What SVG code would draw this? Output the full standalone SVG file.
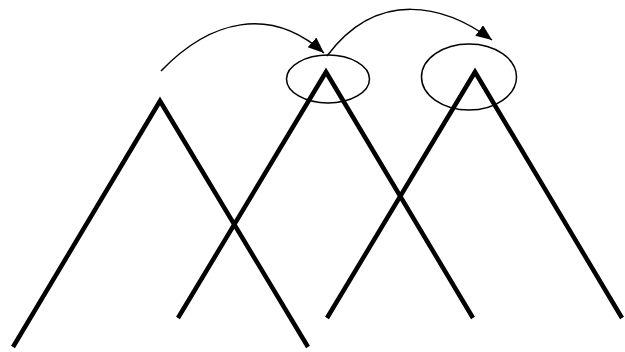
<svg xmlns="http://www.w3.org/2000/svg" width="625" height="352" viewBox="0 0 625 352">
<style>
.tri{fill:none;stroke:#000;stroke-width:4.5;stroke-linejoin:miter}
.ell{fill:none;stroke:#000;stroke-width:1.5}
.arc{fill:none;stroke:#000;stroke-width:1.5}
</style>
<defs>
<marker id="ah" markerUnits="userSpaceOnUse" markerWidth="17" markerHeight="14" refX="16" refY="6.5" orient="auto">
<path d="M0,0 L16,6.5 L0,13 z" fill="#000"/>
</marker>
</defs>
<rect width="625" height="352" fill="#fff"/>
<g id="tree1"><polyline class="tri" points="13,347 160,101 308,347"/></g>
<g id="tree2"><polyline class="tri" points="178,318 326,72 473,318"/><ellipse class="ell" cx="328" cy="79" rx="41.5" ry="24"/></g>
<g id="tree3"><polyline class="tri" points="327,318 475,72 622,318"/><ellipse class="ell" cx="469" cy="77" rx="47.5" ry="33"/></g>
<g id="connectors">
<path class="arc" d="M161,71 C210,20 270,5 324,53" marker-end="url(#ah)"/>
<path class="arc" d="M327,56 C378,-12 445,5 492,40" marker-end="url(#ah)"/>
</g>
</svg>
